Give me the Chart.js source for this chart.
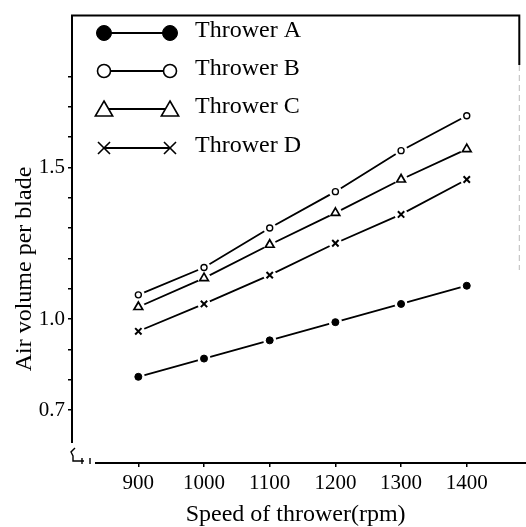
<!DOCTYPE html>
<html>
<head>
<meta charset="utf-8">
<script src="https://cdn.jsdelivr.net/npm/chart.js@4.4.1/dist/chart.umd.min.js"></script>
<style>
html,body{margin:0;padding:0;background:#fff;}
#wrap{width:526px;height:527px;position:relative;}
</style>
</head>
<body>
<div id="wrap"><canvas id="c" width="526" height="527"></canvas></div>
<script>
// ---- data ----
const speeds = [900, 1000, 1100, 1200, 1300, 1400];
const throwerA = [0.81, 0.87, 0.93, 0.99, 1.05, 1.11];
const throwerB = [1.08, 1.17, 1.30, 1.42, 1.555, 1.67];
const throwerC = [1.04, 1.135, 1.245, 1.35, 1.46, 1.56];
const throwerD = [0.96, 1.05, 1.145, 1.25, 1.345, 1.46];
const seriesNames = ['Thrower A', 'Thrower B', 'Thrower C', 'Thrower D'];
const xTicks = [900, 1000, 1100, 1200, 1300, 1400];
const yTicks = [0.7, 0.8, 0.9, 1.0, 1.1, 1.2, 1.3, 1.4, 1.5, 1.6, 1.7, 1.8];
const yTickLabels = {'0.7': '0.7', '1': '1.0', '1.5': '1.5'};
const xTitle = 'Speed of thrower(rpm)';
const yTitle = 'Air volume per blade';

const FONT = "'Liberation Serif', 'Times New Roman', serif";
const INK = '#000';

const styles = [
  {pointStyle: 'circle', r: 3.5, bg: INK, bw: 1, legR: 7.5},
  {pointStyle: 'circle', r: 3, bg: '#fff', bw: 1.4, legR: 6.5},
  {pointStyle: 'triangle', r: 5, bg: '#fff', bw: 1.7, legR: 10},
  {pointStyle: 'crossRot', r: 4.5, bg: '#fff', bw: 2, legR: 8.5}
];
const seriesData = [throwerA, throwerB, throwerC, throwerD];

const datasets = seriesData.map((vals, i) => ({
  label: seriesNames[i],
  data: speeds.map((s, j) => ({x: s, y: vals[j]})),
  borderColor: INK,
  borderWidth: 1.8,
  pointStyle: styles[i].pointStyle,
  pointRadius: styles[i].r,
  pointBackgroundColor: styles[i].bg,
  pointBorderColor: INK,
  pointBorderWidth: styles[i].bw,
  tension: 0,
  fill: false
}));

// white gaps between the lines and the markers, as in the print
const gaps = {
  id: 'gaps',
  afterDatasetsDraw(chart) {
    const ctx = chart.ctx;
    ctx.save();
    chart.data.datasets.forEach((ds, i) => {
      const meta = chart.getDatasetMeta(i);
      meta.data.forEach(el => {
        ctx.fillStyle = '#fff';
        ctx.beginPath();
        ctx.arc(el.x, el.y, 6.5, 0, Math.PI * 2);
        ctx.fill();
      });
    });
    chart.data.datasets.forEach((ds, i) => {
      const meta = chart.getDatasetMeta(i);
      meta.data.forEach(el => el.draw(ctx, chart.chartArea));
    });
    ctx.restore();
  }
};

const decor = {
  id: 'decor',
  afterDraw(chart) {
    const ctx = chart.ctx;
    const a = chart.chartArea;
    ctx.save();
    ctx.strokeStyle = INK;
    ctx.lineWidth = 2;
    // frame: left axis, top, right stub
    ctx.beginPath();
    ctx.moveTo(a.left, 443);
    ctx.lineTo(a.left, a.top);
    ctx.lineTo(a.right, a.top);
    ctx.lineTo(a.right, 65);
    ctx.stroke();
    ctx.strokeStyle = '#bbb';
    ctx.lineWidth = 1;
    ctx.setLineDash([6, 4]);
    ctx.beginPath();
    ctx.moveTo(a.right, 65);
    ctx.lineTo(a.right, 270);
    ctx.stroke();
    ctx.setLineDash([]);
    // x axis
    ctx.strokeStyle = INK;
    ctx.lineWidth = 2;
    ctx.beginPath();
    ctx.moveTo(95, a.bottom);
    ctx.lineTo(526, a.bottom);
    ctx.stroke();
    // axis break marks
    ctx.lineWidth = 1.4;
    ctx.beginPath();
    ctx.moveTo(a.left + 3, 448);
    ctx.lineTo(a.left - 1, 452);
    ctx.lineTo(a.left + 1, 456);
    ctx.lineTo(a.left + 1, 461);
    ctx.lineTo(a.left + 12, 461);
    ctx.moveTo(a.left + 10, 458);
    ctx.lineTo(a.left + 10, 464);
    ctx.moveTo(a.left + 18, 458);
    ctx.lineTo(a.left + 18, 464);
    ctx.stroke();
    // legend
    const rows = [33, 71, 109, 148];
    const x1 = 104, x2 = 170, tx = 195;
    rows.forEach((y, i) => {
      ctx.strokeStyle = INK;
      ctx.lineWidth = 2;
      ctx.beginPath();
      ctx.moveTo(x1, y);
      ctx.lineTo(x2, y);
      ctx.stroke();
      const st = styles[i];
      ctx.fillStyle = st.bg;
      ctx.lineWidth = i === 0 ? 1 : 1.6;
      [x1, x2].forEach(px => {
        Chart.helpers.drawPoint(ctx, {pointStyle: st.pointStyle, radius: st.legR, borderWidth: 1.6, rotation: 0}, px, i === 2 ? y + 2 : y);
      });
      ctx.fillStyle = INK;
      ctx.font = '24px ' + FONT;
      ctx.textBaseline = 'middle';
      ctx.textAlign = 'left';
      ctx.fillText(seriesNames[i], tx, y - 2);
    });
    // y title
    ctx.save();
    ctx.translate(25, 269);
    ctx.rotate(-Math.PI / 2);
    ctx.font = '24px ' + FONT;
    ctx.fillStyle = INK;
    ctx.textAlign = 'center';
    ctx.textBaseline = 'middle';
    ctx.fillText(yTitle, 0, 0);
    ctx.restore();
    ctx.restore();
  }
};

new Chart(document.getElementById('c'), {
  type: 'line',
  data: {datasets},
  options: {
    responsive: false,
    animation: false,
    events: [],
    layout: {padding: {top: 10, right: 2, left: 0, bottom: 0}},
    plugins: {legend: {display: false}, tooltip: {enabled: false}},
    scales: {
      x: {
        type: 'linear',
        min: 799, max: 1480,
        afterFit: s => { s.height = 64; },
        afterBuildTicks: s => { s.ticks = xTicks.map(v => ({value: v})); },
        border: {display: false},
        grid: {drawOnChartArea: false, tickLength: 4, color: INK, lineWidth: 1.5},
        ticks: {color: INK, padding: 4, maxRotation: 0, font: {family: FONT, size: 21}, callback: v => String(v)},
        title: {display: true, text: xTitle, color: INK, padding: {top: 0, bottom: 0, left: 0, right: 0}, font: {family: FONT, size: 24, lineHeight: 1}}
      },
      y: {
        type: 'linear',
        min: 0.526, max: 2.0,
        afterFit: s => { s.width = 72; },
        afterBuildTicks: s => { s.ticks = yTicks.map(v => ({value: v})); },
        border: {display: false},
        grid: {drawOnChartArea: false, tickLength: 4, color: INK, lineWidth: 1.5},
        ticks: {color: INK, padding: 3, font: {family: FONT, size: 21},
          callback: v => yTickLabels[String(Math.round(v * 10) / 10)] || ''}
      }
    }
  },
  plugins: [gaps, decor]
});
</script>
</body>
</html>
